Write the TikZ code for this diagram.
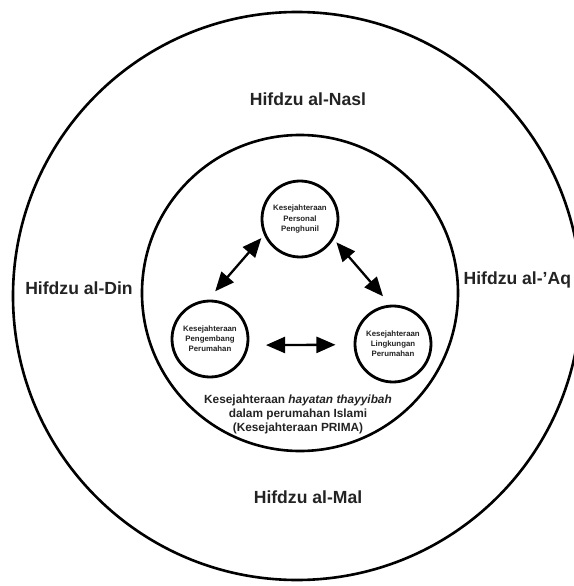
\documentclass[tikz,border=0pt]{standalone}
\usepackage{fontspec}
\setmainfont{Liberation Sans}
\usepackage{xcolor}
\usetikzlibrary{
  arrows.meta
}
\definecolor{ink}{HTML}{232323}
\tikzset{
  ring/.style={
    circle,
    draw,
    line width=2.6pt,
    inner sep=0pt},
  welfare/.style={
    circle,
    draw,
    line width=2.8pt,
    inner sep=0pt,
    minimum size=2.66cm,
    align=center,
    text=ink,
    font=\fontsize{7.8}{10}\selectfont\bfseries},
  pillar/.style={
    text=ink,
    font=\fontsize{17.5}{21}\selectfont\bfseries},
  link/.style={
    <->,
    line width=2.3pt,
    >={Triangle[length=19pt,width=16pt]}}
  }

\begin{document}
\begin{tikzpicture}
    \useasboundingbox (-10.5,-10.255) rectangle (9.59,10.255);
    \node[ring, minimum size=19.88cm] (outer) at (-0.105,-0.105) {};
    \node[ring, minimum size=11.06cm] (inner) at (0,0) {};
    \node[welfare] (personal) at (0,2.59) {Kesejahteraan\\Personal\\Penghunil};
    \node[welfare] (developer) at (-3.15,-1.61) {Kesejahteraan\\Pengembang\\Perumahan};
    \node[welfare] (environment) at (3.255,-1.785) {Kesejahteraan\\Lingkungan\\Perumahan};
    \node[pillar] (nasl) at (0.28,6.79) {Hifdzu al-Nasl};
    \node[pillar] (din) at (-7.735,0.175) {Hifdzu al-Din};
    \node[pillar, anchor=west, inner sep=0pt] (aql) at (5.72,0.455) {Hifdzu al-’Aq};
    \node[pillar] (mal) at (0.28,-7.14) {Hifdzu al-Mal};
    \node[align=center, text=ink, font=\fontsize{11.8}{14}\selectfont\bfseries] (prima) at (-0.07,-4.235)
      {Kesejahteraan \textit{hayatan thayyibah}\\dalam perumahan Islami\\(Kesejahteraan PRIMA)};
    \draw
    (personal.204) edge[link, shorten <=4pt, shorten >=11pt] (developer.93)
    (personal.329) edge[link, shorten <=4pt, shorten >=11pt] (environment.94)
    (developer.-9) edge[link, shorten <=17pt, shorten >=18pt] (environment.181);
  \end{tikzpicture}
\end{document}
